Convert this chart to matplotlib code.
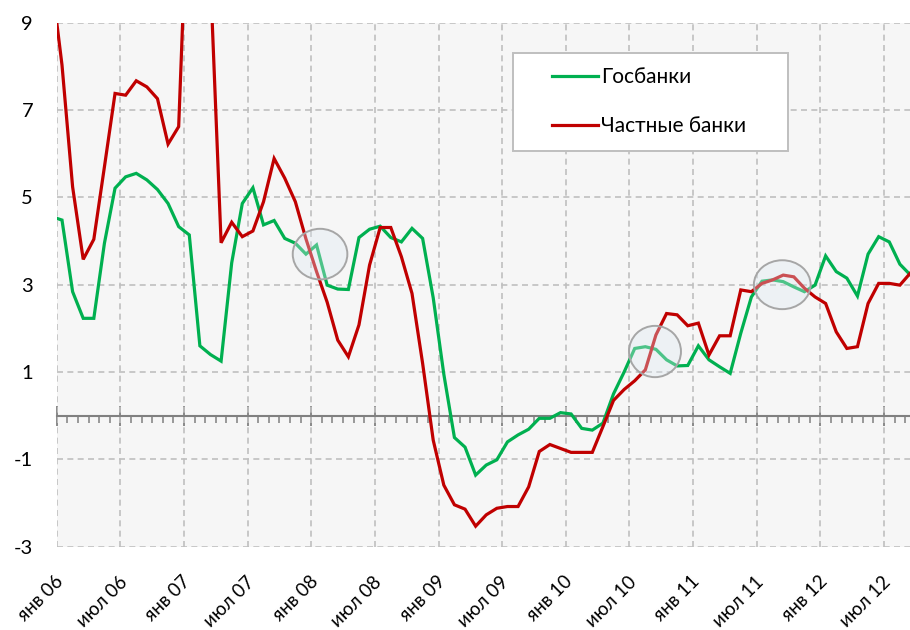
import matplotlib
matplotlib.use('Agg')
import matplotlib.pyplot as plt
import matplotlib.transforms as mtransforms
import numpy as np
from matplotlib.patches import Ellipse
from matplotlib.ticker import MultipleLocator
from matplotlib.legend_handler import HandlerLine2D

plt.rcParams['font.family'] = ['Lato', 'DejaVu Sans']

# month index: 0 = Jan 2006 (first value is Dec 2005)
months = list(range(-1, 81))
tick_months = [0, 6, 12, 18, 24, 30, 36, 42, 48, 54, 60, 66, 72, 78]
tick_labels = ['янв 06', 'июл 06', 'янв 07', 'июл 07', 'янв 08', 'июл 08',
               'янв 09', 'июл 09', 'янв 10', 'июл 10', 'янв 11', 'июл 11',
               'янв 12', 'июл 12']
series_names = ['Госбанки', 'Частные банки']

state_banks = [4.56, 4.48, 2.84, 2.23, 2.23, 3.95, 5.21, 5.47, 5.55, 5.40, 5.18, 4.86,
               4.33, 4.14, 1.60, 1.40, 1.25, 3.50, 4.86, 5.22, 4.37, 4.47, 4.06, 3.95,
               3.70, 3.91, 2.99, 2.90, 2.89, 4.08, 4.27, 4.34, 4.08, 3.98, 4.29, 4.06,
               2.70, 0.95, -0.50, -0.72, -1.36, -1.13, -1.01, -0.60, -0.44, -0.31, -0.06, -0.06,
               0.07, 0.04, -0.29, -0.33, -0.17, 0.50, 1.00, 1.54, 1.58, 1.52, 1.28, 1.14,
               1.15, 1.60, 1.28, 1.12, 0.97, 1.89, 2.72, 3.08, 3.11, 3.07, 2.95, 2.84,
               2.99, 3.66, 3.30, 3.15, 2.74, 3.70, 4.10, 3.98, 3.47, 3.22]

private_banks = [10.0, 8.03, 5.24, 3.58, 4.04, 5.70, 7.38, 7.34, 7.67, 7.53, 7.26, 6.22,
                 6.62, 13.0, 14.0, 10.0, 3.96, 4.43, 4.10, 4.23, 4.90, 5.89, 5.44, 4.90,
                 4.05, 3.30, 2.60, 1.73, 1.35, 2.08, 3.45, 4.31, 4.31, 3.64, 2.80, 1.20,
                 -0.56, -1.59, -2.04, -2.14, -2.53, -2.27, -2.12, -2.08, -2.08, -1.63, -0.82, -0.66,
                 -0.75, -0.84, -0.84, -0.84, -0.25, 0.35, 0.60, 0.80, 1.05, 1.85, 2.34, 2.31,
                 2.06, 2.12, 1.39, 1.83, 1.83, 2.88, 2.84, 3.03, 3.11, 3.22, 3.18, 2.92,
                 2.72, 2.57, 1.92, 1.54, 1.58, 2.57, 3.03, 3.03, 2.99, 3.27]

# highlighted areas (center month, center value)
highlight_centers = [(24.83, 3.70), (56.41, 1.47), (68.41, 3.00)]
highlight_sizes = [(5.15, 1.16), (4.9, 1.175), (5.35, 1.12)]

GREEN = '#00b050'
RED = '#c00000'
GRID = '#bfbfbf'


class RightLine(HandlerLine2D):
    def __init__(self, frac=1.0, **kw):
        super().__init__(**kw)
        self.frac = frac

    def create_artists(self, legend, orig_handle, xdescent, ydescent, width,
                       height, fontsize, trans):
        arts = super().create_artists(legend, orig_handle, xdescent, ydescent,
                                      width, height, fontsize, trans)
        for a in arts:
            xd = np.asarray(a.get_xdata(), float)
            if xd.size >= 2:
                x0, x1 = xd.min(), xd.max()
                a.set_xdata(np.linspace(x1 - (x1 - x0) * self.frac, x1, xd.size))
        return arts


W, H = 910, 630
fig = plt.figure(figsize=(W / 100, H / 100), dpi=100)
left_px, right_px, top_px, bottom_px = 56.7, 910.0, 22.7, 546.7
ax = fig.add_axes([left_px / W, 1 - bottom_px / H, (right_px - left_px) / W,
                   (bottom_px - top_px) / H])
ax.set_facecolor('#f6f6f6')

x = np.array(months) + 0.5
ax.plot(x, state_banks, color=GREEN, lw=2.3, label=series_names[0], zorder=3,
        solid_joinstyle='miter')
ax.plot(x, private_banks, color=RED, lw=2.3, label=series_names[1], zorder=3,
        solid_joinstyle='miter')

for (cx, cy), (w, h) in zip(highlight_centers, highlight_sizes):
    e = Ellipse((cx, cy), w, h, facecolor=(0.87, 0.91, 0.95, 0.35),
                edgecolor='#a6a6a6', lw=1.4, zorder=4)
    ax.add_patch(e)

ax.set_xlim(0, (right_px - left_px) / 10.606)
ax.set_ylim(-3, 9)

for s in ax.spines.values():
    s.set_visible(False)

ax.set_yticks([-3, -1, 1, 3, 5, 7, 9])
ax.set_yticklabels(['-3', '-1', '1', '3', '5', '7', '9'])
ax.tick_params(axis='y', length=0, pad=17, labelsize=14.5)

ax.set_xticks(tick_months)
ax.set_xticklabels(tick_labels)
ax.tick_params(axis='x', length=0, pad=10, labelsize=13.5)
for lbl in ax.get_xticklabels():
    lbl.set_rotation(45)
    lbl.set_ha('right')
    lbl.set_va('top')
    lbl.set_rotation_mode('anchor')

ax.grid(True, color=GRID, lw=1.2, linestyle=(0, (3.6, 2.6)))
ax.set_axisbelow(True)

# zero axis with ticks
sec = ax.secondary_xaxis(3 / 12)
sec.set_xticks(tick_months)
sec.xaxis.set_minor_locator(MultipleLocator(1))
sec.tick_params(axis='x', which='major', direction='inout', length=15, width=1.3,
                color='#808080', labelbottom=False)
sec.tick_params(axis='x', which='minor', direction='out', length=5, width=1.1,
                color='#808080')
sec.spines['bottom'].set_color('#808080')
sec.spines['bottom'].set_linewidth(1.5)

handles, labels = ax.get_legend_handles_labels()
leg = ax.legend(handles, labels, loc='upper left',
                bbox_to_anchor=(0.535, 0.774, 0.3215, 0.1687), mode='expand',
                borderaxespad=0, fontsize=15, frameon=True, fancybox=False,
                edgecolor='#bfbfbf', facecolor='white', framealpha=1,
                handlelength=3.40, handletextpad=0.144, borderpad=0.68,
                labelspacing=1.42,
                handler_map={h: RightLine(frac=0.658) for h in handles})
leg.get_frame().set_linewidth(1.4)
leg.set_zorder(6)

# place each rotated x label so its box's top-right corner sits just right of
# its tick, a little below the plot area (as in the reference)
fig.canvas.draw()
renderer = fig.canvas.get_renderer()
for tm, lbl in zip(tick_months, ax.get_xticklabels()):
    bb = lbl.get_window_extent(renderer)
    tick_disp = ax.transData.transform((tm, 0))[0]
    want_right = tick_disp + 10.0
    want_top = H - 573.0
    dx = want_right - bb.x1
    dy = want_top - bb.y1
    lbl.set_transform(lbl.get_transform() + mtransforms.Affine2D().translate(dx, dy))

fig.savefig('out.png', dpi=100)
